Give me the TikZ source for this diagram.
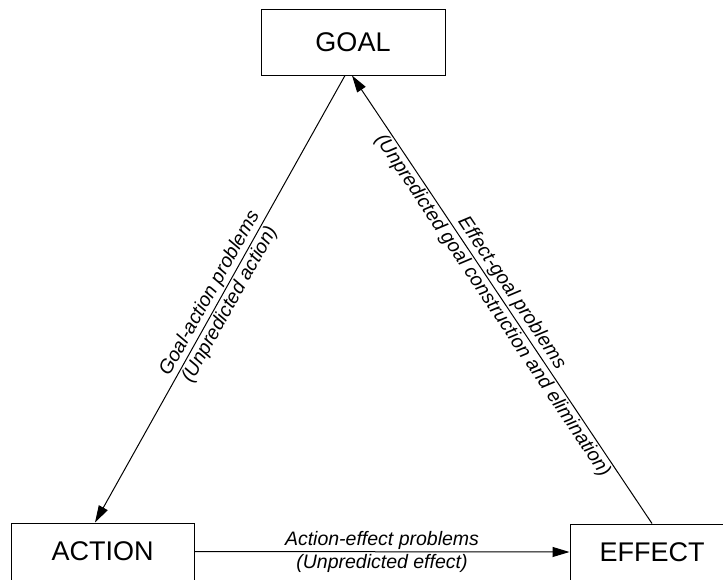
\documentclass[tikz,border=0pt]{standalone}
\usepackage{fontspec}
\setmainfont{Liberation Sans}
\usetikzlibrary{arrows.meta}
\begin{document}
\begin{tikzpicture}[x=1pt,y=-1pt,
  box/.style={draw, line width=1pt, rectangle, inner sep=0pt, font=\fontsize{27}{32}\selectfont},
  conn/.style={line width=1pt, -{Triangle[length=17pt,width=10pt]}},
  elabel/.style={midway, sloped, align=center, inner sep=0pt, font=\itshape\fontsize{19.5}{23}\selectfont}]
\useasboundingbox (0,0) rectangle (723,579);
\node[box, minimum width=184pt, minimum height=66pt] (goal) at (353,42) {GOAL};
\node[box, minimum width=183pt, minimum height=57pt] (action) at (102.5,551.5) {ACTION};
\node[box, minimum width=164pt, minimum height=56pt] (effect) at (652,552) {EFFECT};
\draw[conn] ([xshift=-8pt]goal.south) -- ([xshift=-7.5pt]action.north)
  node[elabel] {Goal-action problems\\(Unpredicted action)};
\draw[conn] (effect.north) -- ([xshift=-1pt]goal.south)
  node[elabel] {Effect-goal problems\\(Unpredicted goal construction and elimination)};
\draw[conn] (action.east) -- (effect.west)
  node[elabel] {Action-effect problems\\(Unpredicted effect)};
\end{tikzpicture}
\end{document}
